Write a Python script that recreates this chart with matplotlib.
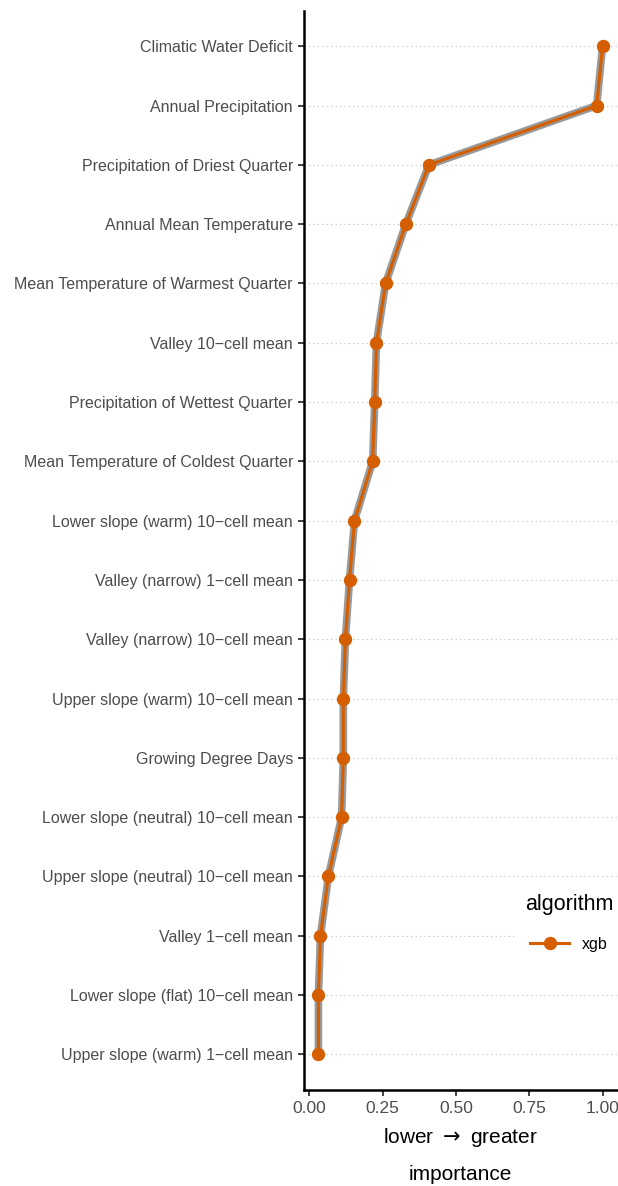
import matplotlib.pyplot as plt

# variable importance, top to bottom as drawn
features = [
    "Climatic Water Deficit",
    "Annual Precipitation",
    "Precipitation of Driest Quarter",
    "Annual Mean Temperature",
    "Mean Temperature of Warmest Quarter",
    "Valley 10\u2212cell mean",
    "Precipitation of Wettest Quarter",
    "Mean Temperature of Coldest Quarter",
    "Lower slope (warm) 10\u2212cell mean",
    "Valley (narrow) 1\u2212cell mean",
    "Valley (narrow) 10\u2212cell mean",
    "Upper slope (warm) 10\u2212cell mean",
    "Growing Degree Days",
    "Lower slope (neutral) 10\u2212cell mean",
    "Upper slope (neutral) 10\u2212cell mean",
    "Valley 1\u2212cell mean",
    "Lower slope (flat) 10\u2212cell mean",
    "Upper slope (warm) 1\u2212cell mean",
]
importance = [1.00, 0.98, 0.408, 0.329, 0.26, 0.229, 0.223, 0.216, 0.154,
              0.137, 0.123, 0.116, 0.116, 0.110, 0.065, 0.038, 0.031, 0.031]
xticks = [0.0, 0.25, 0.5, 0.75, 1.0]
xticklabels = ["0.00", "0.25", "0.50", "0.75", "1.00"]

plt.rcParams['font.family'] = ['Liberation Sans', 'DejaVu Sans']

fig = plt.figure(figsize=(6.18, 11.86), dpi=100)
ax = fig.add_axes([0.492, 0.081, 0.506, 0.910])

n = len(features)
ypos = list(range(n, 0, -1))

for y in ypos:
    ax.axhline(y, color='#bdbdbd', lw=0.8, ls=(0, (1, 3)), zorder=0)

ax.plot(importance, ypos, color='#999999', lw=5.5, solid_capstyle='round', zorder=2)
ax.plot(importance, ypos, color='#D55E00', lw=2.2, marker='o', ms=8.6,
        label='xgb', zorder=3)

ax.set_ylim(0.4, n + 0.6)
ax.set_xlim(-0.018, 1.0485)
ax.set_yticks(ypos)
ax.set_yticklabels(features, fontsize=11.5, color='#4d4d4d')
ax.set_xticks(xticks)
ax.set_xticklabels(xticklabels, fontsize=12.5, color='#4d4d4d')
ax.tick_params(axis='both', length=4, width=1.2, color='#222222', pad=4)
ax.set_xlabel("lower $\\rightarrow$ greater", fontsize=15, labelpad=7)
fig.text(0.745, 1 - 1175 / 1186, "importance", fontsize=15,
         ha='center', va='center')

for s in ['top', 'right']:
    ax.spines[s].set_visible(False)
for s in ['left', 'bottom']:
    ax.spines[s].set_linewidth(1.8)
    ax.spines[s].set_color('black')

leg = ax.legend(title='algorithm', loc='center', bbox_to_anchor=(0.847, 0.155),
                frameon=True, fontsize=11.5, title_fontsize=15.5,
                handlelength=2.4, borderpad=0.6, labelspacing=1.2)
leg.get_frame().set_edgecolor('white')
leg.get_frame().set_facecolor('white')
leg.get_frame().set_alpha(1)
leg.get_frame().set_boxstyle('square', pad=0)
leg._legend_box.sep = 16

fig.savefig('out.png', dpi=100)
